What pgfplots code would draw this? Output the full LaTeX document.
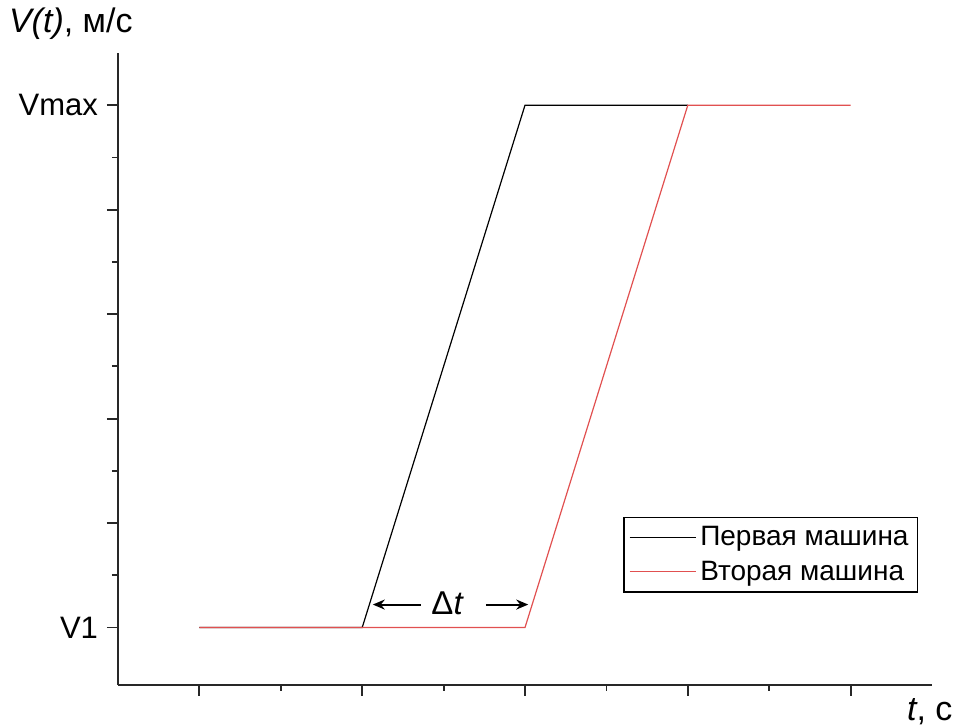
\documentclass[border=0pt]{standalone}
\usepackage{fontspec}
\setmainfont{Liberation Sans}
\usepackage{pgfplots}
\pgfplotsset{compat=1.18}
\usetikzlibrary{arrows.meta}
\definecolor{myred}{RGB}{225,80,80}
\definecolor{axgray}{RGB}{40,40,40}
\begin{document}
\begin{tikzpicture}
\useasboundingbox (-59pt,-21pt) rectangle (420pt,342.5pt);
\begin{axis}[
  scale only axis,
  width=407pt, height=316pt,
  xmin=0.5, xmax=5.5, ymin=-0.55, ymax=5.5,
  axis x line*=bottom, axis y line*=left,
  axis line style={axgray, line width=0.9pt},
  tick align=outside,
  major tick length=5.5pt, minor tick length=3pt,
  every tick/.style={axgray, line width=0.9pt},
  xtick={1,2,3,4,5}, xticklabels={},
  minor x tick num=1,
  ytick={0,1,2,3,4,5}, yticklabels={V1,,,,,Vmax},
  minor y tick num=1,
  yticklabel style={font=\fontsize{15.5}{18}\selectfont, xshift=-1pt},
  clip=false,
  legend style={at={(rel axis cs:0.983,0.266)}, anchor=north east,
    draw=black, line width=0.6pt, font=\fontsize{14}{16}\selectfont,
    inner xsep=2.5pt, inner ysep=2.5pt, row sep=2pt,
    legend cell align=left},
  legend image code/.code={\draw[#1] (0cm,0cm) -- (33pt,0cm);},
]
\addplot[black, line width=0.6pt] coordinates {(1,0) (2,0) (3,5) (4,5)};
\addlegendentry{Первая машина}
\addplot[myred, line width=0.6pt] coordinates {(1,0) (3,0) (4,5) (5,5)};
\addlegendentry{Вторая машина}
\draw[-{Stealth[length=6pt,width=5pt]}, line width=1pt] (axis cs:2.36,0.22) -- (axis cs:2.065,0.22);
\draw[-{Stealth[length=6pt,width=5pt]}, line width=1pt] (axis cs:2.76,0.22) -- (axis cs:3.02,0.22);
\node[font=\fontsize{16.5}{19}\selectfont] at (axis cs:2.525,0.23) {Δ\textit{t}};
\end{axis}
\node[anchor=base west, font=\fontsize{17}{19}\selectfont] at (-58pt,326pt) {\textit{V(t)}, м/с};
\node[anchor=base west, font=\fontsize{17}{19}\selectfont] at (391pt,-18pt) {\textit{t}, с};
\end{tikzpicture}
\end{document}
